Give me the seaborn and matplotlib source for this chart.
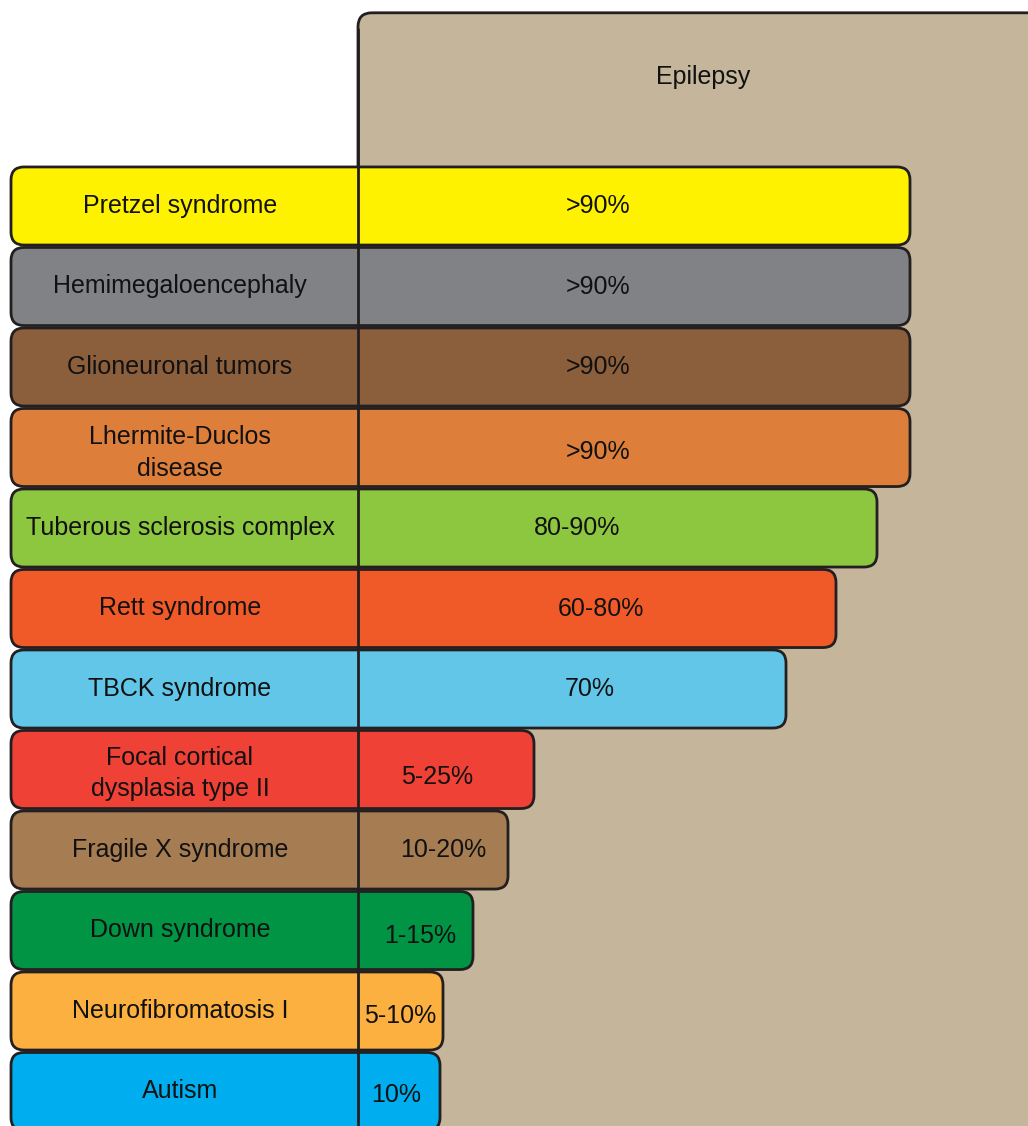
import matplotlib
matplotlib.use("Agg")
import matplotlib.pyplot as plt
import seaborn as sns
from matplotlib.patches import FancyBboxPatch

# Data: conditions, bar lengths (schematic, picture units) and epilepsy rates
conditions = ["Pretzel syndrome", "Hemimegaloencephaly", "Glioneuronal tumors",
              "Lhermite-Duclos\ndisease", "Tuberous sclerosis complex", "Rett syndrome",
              "TBCK syndrome", "Focal cortical\ndysplasia type II", "Fragile X syndrome",
              "Down syndrome", "Neurofibromatosis I", "Autism"]
bar_length = [899, 899, 899, 899, 866, 825, 775, 523, 497, 462, 432, 429]
rates = [">90%", ">90%", ">90%", ">90%", "80-90%", "60-80%", "70%",
         "5-25%", "10-20%", "1-15%", "5-10%", "10%"]
colors = ["#FFF200", "#808285", "#8B5E3C", "#DD7F3B", "#8DC63F", "#F05A28",
          "#62C6E9", "#EF4136", "#A67C52", "#009444", "#FBB040", "#00AEEF"]

# layout of the text (x centre of rates, small vertical nudges)
rate_x = [587, 587, 587, 587, 566, 590, 579, 426, 432, 409, 389, 385]
rate_dy = [0.0, 0.0, 0.0, 0.05, 0.0, 0.0, 0.0, 0.09, 0.0, 0.07, 0.06, 0.04]
label_dy = [0.0, 0.0, 0.0, 0.07, 0.0, 0.0, 0.0, 0.05, 0.0, 0.0, 0.0, 0.0]

sns.set_style("white")
plt.rcParams["font.family"] = ["Liberation Sans", "DejaVu Sans"]

edge = "#231F20"
txt = "#111111"
fs = 18
row_px = 80.5
fig = plt.figure(figsize=(10.28, 11.26), dpi=100)
ax = fig.add_axes([0, 0, 1, 1])

sns.barplot(x=bar_length, y=conditions, hue=conditions, palette=colors,
            saturation=1, legend=False, orient="h", width=0.97, ax=ax)

# swap the plain bars for rounded boxes
bars = list(ax.patches)
for p in bars:
    x0, y0, w, h = p.get_x(), p.get_y(), p.get_width(), p.get_height()
    fc = p.get_facecolor()
    p.remove()
    ax.add_patch(FancyBboxPatch((x0, y0), w, h,
                                boxstyle="round,pad=0,rounding_size=13",
                                mutation_aspect=1 / row_px, fc=fc, ec=edge,
                                lw=2, zorder=3))

# epilepsy background panel
ax.add_patch(FancyBboxPatch((347, -2.40), 700, 15,
                            boxstyle="round,pad=0,rounding_size=14",
                            mutation_aspect=1 / row_px, fc="#C4B59B", ec=edge,
                            lw=2, zorder=1))
ax.text(692, -1.60, "Epilepsy", ha="center", va="center", fontsize=fs,
        color=txt, zorder=5)

# divider line between labels and rates
ax.plot([347, 347], [-2.2, 12], color=edge, lw=2, zorder=4)

for i, name in enumerate(conditions):
    ax.text(169, i + label_dy[i], name, ha="center", va="center", fontsize=fs,
            linespacing=1.4, color=txt, zorder=5)
    ax.text(rate_x[i], i + rate_dy[i], rates[i], ha="center", va="center",
            fontsize=fs, color=txt, zorder=5)

ax.set_xlim(-11, 1017)
ax.set_ylim((1126 - 206) / row_px, -206 / row_px)
ax.axis("off")

fig.savefig("out.png", dpi=100)
